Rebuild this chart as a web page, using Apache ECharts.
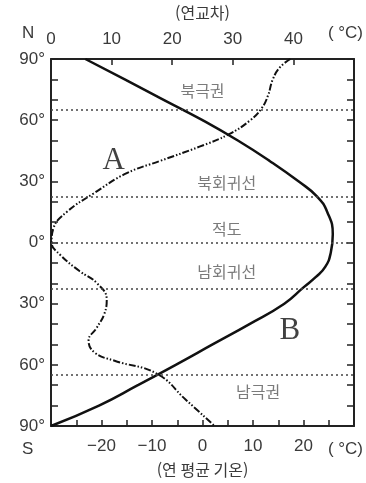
<!DOCTYPE html>
<html lang="ko">
<head>
<meta charset="UTF-8">
<title>위도별 기온과 연교차</title>
<script src="https://cdn.jsdelivr.net/npm/echarts@6/dist/echarts.min.js"></script>
<style>
  html, body { margin: 0; padding: 0; background: #fff; }
  #main { width: 366px; height: 483px; }
</style>
</head>
<body>
<div id="main"></div>
<script>
// 위도 (북위 +, 남위 -)
var latLines = [65, 22.5, 0, -22.5, -65];

// B: 연 평균 기온 [기온, 위도]
var meanTemp = [
  [-23.2, 90], [-15.4, 80], [-7.7, 70], [0, 60], [7, 50], [13.3, 40],
  [19, 30], [22.7, 22.5], [24.7, 15], [25.8, 4], [25.4, -5], [24.3, -12],
  [22.4, -17], [20, -22], [16.2, -30], [9.3, -40], [2, -50], [-5.3, -60],
  [-12.8, -70], [-20.5, -80], [-30, -90]
];

// A: 연교차 [연교차, 위도]
var annualRange = [
  [39.5, 90], [37.8, 86], [36.6, 80], [35.8, 72], [34.8, 66], [32.9, 60],
  [29.3, 53], [24.5, 47], [18, 40], [12.5, 34], [7, 24], [2.6, 15],
  [0.4, 7], [0.1, 0], [1.5, -6], [4.7, -14], [7.6, -20], [9.2, -28],
  [8.8, -35], [7.5, -42], [6.2, -48], [7.2, -54], [10.5, -58], [17.5, -64.4],
  [22.2, -77], [27, -90]
];

// 영역 이름 [기온축 값, 위도, 글자]
var zoneNames = [
  [0, 74.4, '북극권'], [4.8, 29, '북회귀선'], [4.8, 6.8, '적도'],
  [4.8, -14.6, '남회귀선'], [11, -73.4, '남극권']
];
var curveNames = [[-17.6, 40, 'A'], [17.3, -43.4, 'B']];

var txt = '#3a3a3a';
var numFont = 'Liberation Sans, Arial, sans-serif';
var korFont = 'Noto Sans CJK KR, sans-serif';
var frame = { onZero: false, lineStyle: { color: '#222', width: 2 } };

var myChart = echarts.init(document.getElementById('main'));
myChart.setOption({
  animation: false,
  grid: { left: 51, right: 12, top: 52, bottom: 54 },
  xAxis: [{
    type: 'value', position: 'bottom', min: -30, max: 30, interval: 5,
    name: '(연 평균 기온)', nameLocation: 'middle', nameGap: 36,
    nameTextStyle: { color: txt, fontSize: 16, fontFamily: korFont },
    axisLine: frame,
    axisTick: { inside: true, length: 6, lineStyle: { color: '#222', width: 1.5 } },
    axisLabel: {
      margin: 12, color: txt, fontSize: 17, fontFamily: numFont,
      formatter: function (v) {
        if (v % 10 !== 0 || Math.abs(v) >= 30) return '';
        return v < 0 ? '\u2212' + (-v) : String(v);
      }
    },
    splitLine: { show: false }
  }, {
    type: 'value', position: 'top', min: 0, max: 50, interval: 10,
    name: '(연교차)', nameLocation: 'middle', nameGap: 38,
    nameTextStyle: { color: txt, fontSize: 16, fontFamily: korFont },
    axisLine: frame,
    axisTick: { inside: true, length: 6, lineStyle: { color: '#222', width: 1.5 } },
    axisLabel: {
      margin: 11, color: txt, fontSize: 17, fontFamily: numFont,
      formatter: function (v) { return v >= 50 ? '' : String(v); }
    },
    splitLine: { show: false }
  }],
  yAxis: [{
    type: 'value', position: 'left', min: -90, max: 90, interval: 10,
    axisLine: frame,
    axisTick: { inside: true, length: 7, lineStyle: { color: '#222', width: 1.5 } },
    axisLabel: {
      margin: 6, color: txt, fontSize: 17, fontFamily: numFont,
      formatter: function (v) { return v % 30 === 0 ? Math.abs(v) + '°' : ''; }
    },
    splitLine: { show: false }
  }, {
    type: 'value', position: 'right', min: -90, max: 90, interval: 10,
    axisLine: { show: true, onZero: false, lineStyle: { color: '#222', width: 2 } },
    axisTick: { inside: true, length: 7, lineStyle: { color: '#222', width: 1.5 } },
    axisLabel: { show: false },
    splitLine: { show: false }
  }],
  graphic: [
    { type: 'text', left: 22, top: 25, style: { text: 'N', fill: txt, font: '17px ' + numFont } },
    { type: 'text', left: 22, top: 441, style: { text: 'S', fill: txt, font: '17px ' + numFont } },
    { type: 'text', right: 3, top: 25, style: { text: '( °C)', fill: txt, font: '17px ' + numFont } },
    { type: 'text', right: 3, top: 441, style: { text: '( °C)', fill: txt, font: '17px ' + numFont } }
  ],
  series: [{
    name: 'B', type: 'line', xAxisIndex: 0, yAxisIndex: 0,
    data: meanTemp, smooth: 0.5, symbol: 'none',
    lineStyle: { color: '#111', width: 2.5 },
    markLine: {
      silent: true, symbol: 'none', label: { show: false },
      lineStyle: { color: '#444', width: 1.5, type: [2, 3] },
      data: latLines.map(function (l) { return { yAxis: l }; })
    },
    z: 3
  }, {
    name: 'A', type: 'line', xAxisIndex: 1, yAxisIndex: 0,
    data: annualRange, smooth: 0.45, symbol: 'none',
    lineStyle: { color: '#111', width: 2, type: [7, 2, 1.5, 2, 1.5, 2] },
    z: 3
  }, {
    type: 'scatter', xAxisIndex: 0, yAxisIndex: 0, symbolSize: 0,
    data: zoneNames,
    label: {
      show: true, position: 'inside', color: '#5a5a5a', fontSize: 16,
      fontFamily: korFont, formatter: function (p) { return p.data[2]; }
    }
  }, {
    type: 'scatter', xAxisIndex: 0, yAxisIndex: 0, symbolSize: 0,
    data: curveNames,
    label: {
      show: true, position: 'inside', color: '#111', fontSize: 31,
      fontFamily: 'Liberation Serif, Times New Roman, serif',
      formatter: function (p) { return p.data[2]; }
    }
  }]
});
</script>
</body>
</html>
